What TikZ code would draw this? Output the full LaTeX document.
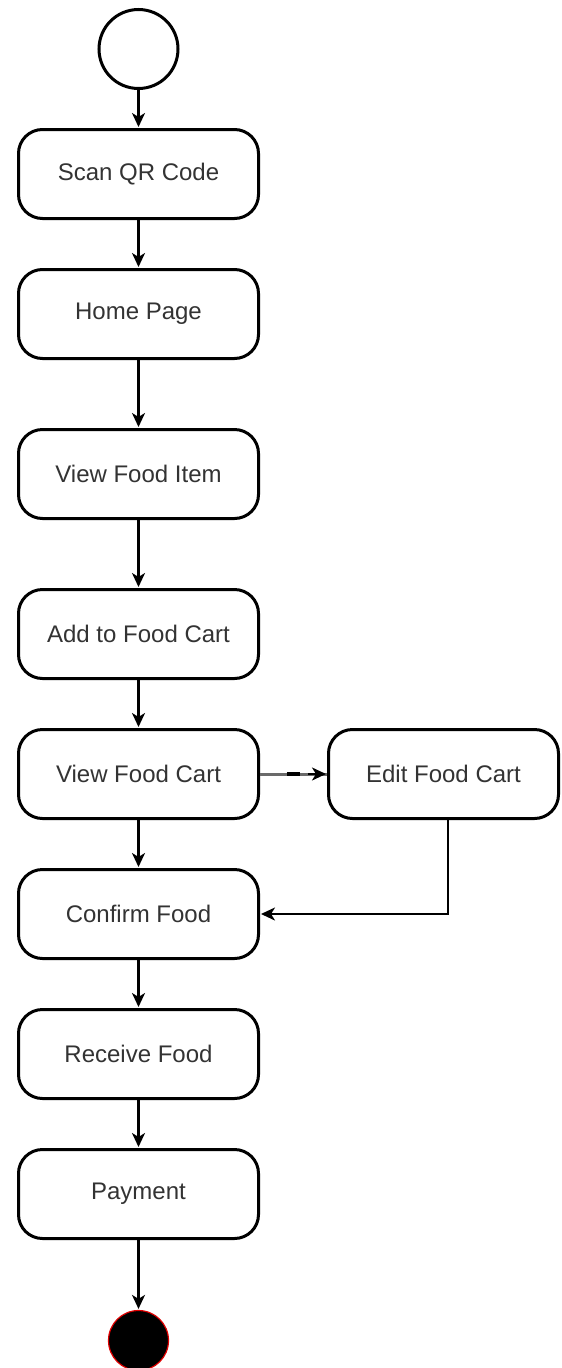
\documentclass[tikz,border=0pt]{standalone}
\usepackage{fontspec}
\setmainfont{Liberation Sans}
\usetikzlibrary{arrows.meta,calc}
\definecolor{txtgray}{HTML}{333333}
\definecolor{linkgray}{HTML}{6A6A6A}
\definecolor{endred}{HTML}{E00000}
\tikzset{
  actbox/.style={draw=black, line width=3pt, rectangle, rounded corners=24pt,
    minimum width=240pt, minimum height=89pt, inner sep=0pt, fill=white,
    text=txtgray, font=\fontsize{24}{28}\selectfont},
  flow/.style={draw=black, line width=2.2pt,
    -{Stealth[length=14pt,width=13pt,inset=4pt]}, shorten >=1pt},
  graylink/.style={draw=linkgray, line width=3pt},
  startnode/.style={circle, draw=black, line width=3pt, fill=white, minimum size=79pt, inner sep=0pt},
  endnode/.style={circle, draw=endred, line width=1.2pt, fill=black, minimum size=60pt, inner sep=0pt}
}
\begin{document}
\begin{tikzpicture}[x=1pt,y=-1pt]
\useasboundingbox (0,0) rectangle (562,1368);
\node[startnode] (start) at (138.5,49) {};
\node[actbox] (scan) at (138.5,174) {Scan QR Code};
\node[actbox] (home) at (138.5,314) {Home Page};
\node[actbox] (item) at (138.5,474) {View Food Item};
\node[actbox] (add) at (138.5,634) {Add to Food Cart};
\node[actbox] (vcart) at (138.5,774) {View Food Cart};
\node[actbox, minimum width=230pt] (edit) at (443.5,774) {Edit Food Cart};
\node[actbox] (confirm) at (138.5,914) {Confirm Food};
\node[actbox] (receive) at (138.5,1054) {Receive Food};
\node[actbox] (pay) at (138.5,1194) {Payment};
\node[endnode] (end) at (138.5,1340.5) {};

\draw[flow] (start.south) -- (scan.north);
\draw[flow] (scan.south) -- (home.north);
\draw[flow] (home.south) -- (item.north);
\draw[flow] (item.south) -- (add.north);
\draw[flow] (add.south) -- (vcart.north);
\draw[graylink] (vcart.east) -- coordinate[pos=0.40] (d1) coordinate[pos=0.60] (d2) coordinate[pos=0.72] (d3) (edit.west);
\draw[black, line width=3.2pt] (d1) -- (d2);
\draw[flow] (d3) -- (edit.west);
\draw[flow] (vcart.south) -- (confirm.north);
\draw[flow] ([xshift=4.5pt]edit.south) |- (confirm.east);
\draw[flow] (confirm.south) -- (receive.north);
\draw[flow] (receive.south) -- (pay.north);
\draw[flow] (pay.south) -- (end.north);
\end{tikzpicture}
\end{document}
